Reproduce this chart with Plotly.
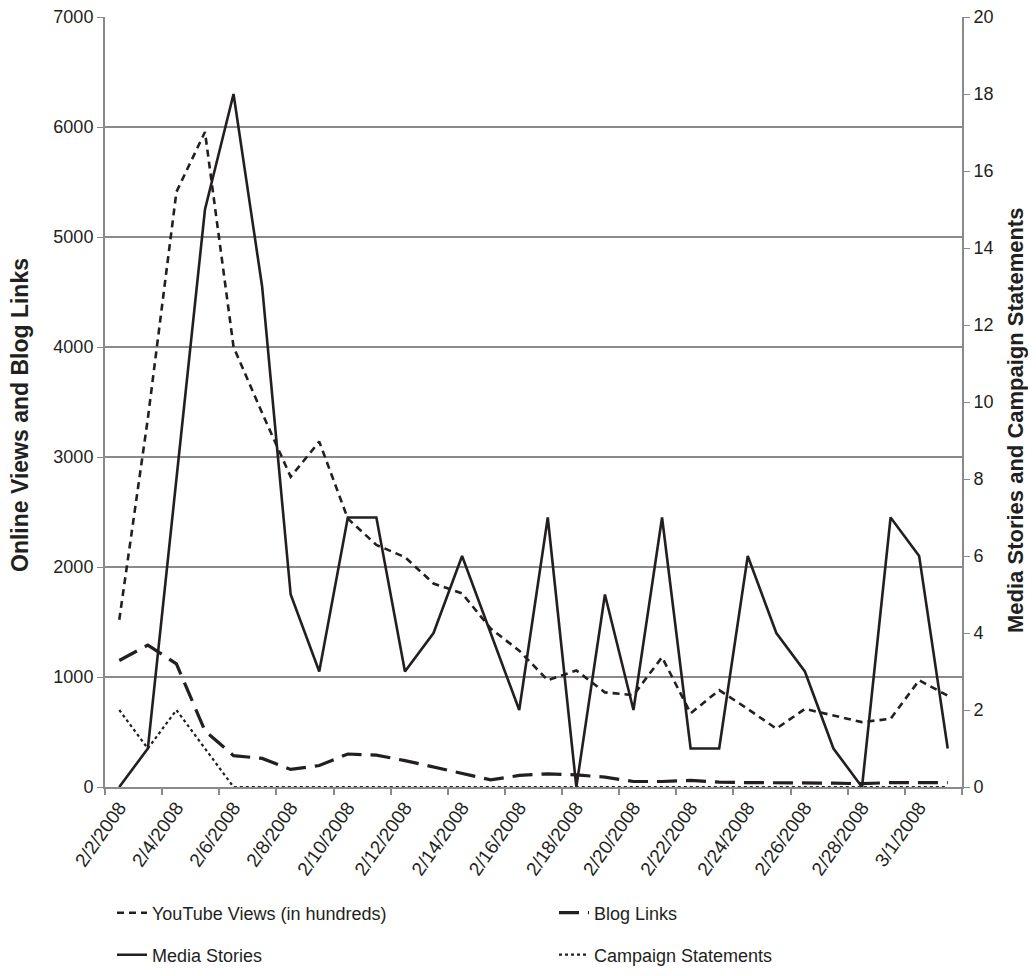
import plotly.graph_objects as go
import pandas as pd

dates = pd.date_range("2008-02-02", "2008-03-02", freq="D")
youtube = [1520, 3350, 5410, 5955, 4000, 3400, 2820, 3140, 2440, 2200, 2090, 1850, 1760, 1440, 1240,
           970, 1060, 860, 835, 1180, 670, 880, 710, 530, 710, 650, 590, 620, 970, 830]
blog = [1150, 1290, 1120, 510, 285, 260, 160, 195, 300, 290, 240, 180, 125, 65, 105,
        120, 110, 90, 50, 50, 60, 45, 40, 40, 40, 35, 30, 40, 40, 40]
media = [0, 1, 8, 15, 18, 13, 5, 3, 7, 7, 3, 4, 6, 4, 2, 7, 0, 5, 2, 7, 1, 1, 6, 4, 3, 1, 0, 7, 6, 1]
campaign = [2, 1, 2, 1, 0, 0, 0, 0, 0, 0, 0, 0, 0, 0, 0, 0, 0, 0, 0, 0, 0, 0, 0, 0, 0, 0, 0, 0, 0, 0]
tick_labels = ["2/2/2008", "2/4/2008", "2/6/2008", "2/8/2008", "2/10/2008", "2/12/2008", "2/14/2008",
               "2/16/2008", "2/18/2008", "2/20/2008", "2/22/2008", "2/24/2008", "2/26/2008",
               "2/28/2008", "3/1/2008"]
tick_dates = list(dates[::2][:len(tick_labels)])
left_title = "Online Views and Blog Links"
right_title = "Media Stories and Campaign Statements"

INK = "#231f20"
GRID = "#8a8a8c"
FONT = "Liberation Sans, Arial, sans-serif"
W, H = 1028, 968  # page body adds an 8px margin
ML, MR, MT, MB = 97, 74, 9, 189
PW, PH = W - ML - MR, H - MT - MB

fig = go.Figure()
fig.add_trace(go.Scatter(x=dates, y=youtube, name="YouTube Views (in hundreds)", mode="lines",
                         line=dict(color=INK, width=2.6, dash="7px,5px"), legend="legend"))
fig.add_trace(go.Scatter(x=dates, y=blog, name="Blog Links", mode="lines",
                         line=dict(color=INK, width=3.2, dash="20px,9px"), legend="legend2"))
fig.add_trace(go.Scatter(x=dates, y=media, name="Media Stories", mode="lines", yaxis="y2",
                         line=dict(color=INK, width=2.6), legend="legend3"))
fig.add_trace(go.Scatter(x=dates, y=campaign, name="Campaign Statements", mode="lines", yaxis="y2",
                         line=dict(color=INK, width=2.2, dash="dot"), legend="legend4"))


def leg(xpx, ypx):
    return dict(orientation="h", xref="container", yref="container", x=xpx / W, y=1 - ypx / H,
                xanchor="left", yanchor="middle", font=dict(size=18, color=INK),
                bgcolor="rgba(0,0,0,0)", visible=True)


def px_to_paper(xpx, ypx):
    return (xpx - ML) / PW, (H - MB - ypx) / PH


lx, ly = px_to_paper(12, 407)
rx, ry = px_to_paper(1008, 413)

fig.update_layout(
    width=W, height=H, showlegend=True,
    margin=dict(l=ML, r=MR, t=MT, b=MB),
    paper_bgcolor="white", plot_bgcolor="white",
    font=dict(family=FONT, size=18, color=INK),
    xaxis=dict(
        range=["2008-02-01 12:00", "2008-03-02 12:00"],
        tickvals=tick_dates, ticktext=tick_labels, tickangle=-55,
        tickfont=dict(size=19, color=INK), ticklabeloverflow="allow",
        showgrid=False, showline=True, linecolor=GRID, linewidth=2,
        ticks="", zeroline=False, automargin=False,
        minor=dict(ticks="outside", tick0="2008-02-01 12:00", dtick=2 * 86400000,
                   ticklen=6, tickcolor=GRID, tickwidth=1.5, showgrid=False),
    ),
    yaxis=dict(
        range=[0, 7000], dtick=1000, tickformat="d", ticklabeloverflow="allow",
        showgrid=True, gridcolor=GRID, gridwidth=2,
        showline=True, linecolor=GRID, linewidth=2, automargin=False,
        ticks="outside", ticklen=6, tickcolor=GRID, zeroline=False,
        tickfont=dict(size=18, color=INK),
    ),
    yaxis2=dict(
        range=[0, 20], dtick=2, overlaying="y", side="right", ticklabeloverflow="allow",
        showgrid=False, showline=True, linecolor=GRID, linewidth=2, automargin=False,
        ticks="outside", ticklen=6, tickcolor=GRID, zeroline=False,
        tickfont=dict(size=18, color=INK),
    ),
    legend=leg(104, 905),
    legend2=leg(546, 905),
    legend3=leg(104, 947),
    legend4=leg(546, 947),
    annotations=[
        dict(text=f"<b>{left_title}</b>", xref="paper", yref="paper", x=lx, y=ly,
             textangle=-90, showarrow=False, xanchor="center", yanchor="middle",
             font=dict(size=23, color=INK, family=FONT)),
        dict(text=f"<b>{right_title}</b>", xref="paper", yref="paper", x=rx, y=ry,
             textangle=-90, showarrow=False, xanchor="center", yanchor="middle",
             font=dict(size=22, color=INK, family=FONT)),
    ],
)

fig.write_html("out.html")
